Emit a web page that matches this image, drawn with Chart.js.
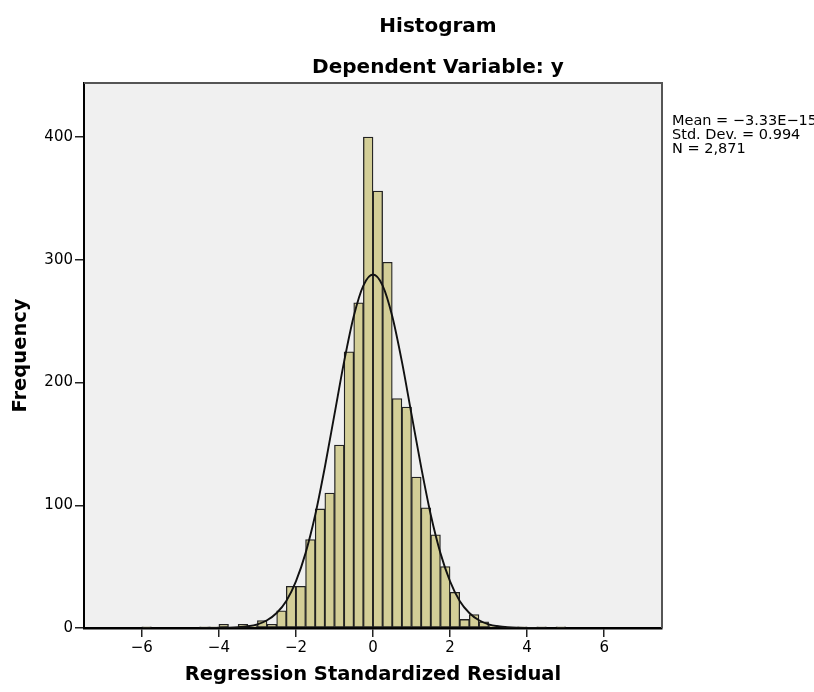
<!DOCTYPE html>
<html>
<head>
<meta charset="utf-8">
<script src="https://cdn.jsdelivr.net/npm/chart.js@4.4.1/dist/chart.umd.min.js"></script>
<style>
  html, body { margin: 0; padding: 0; background: #fff; }
  #wrap { position: relative; width: 814px; height: 692px; overflow: hidden; }
  #c { position: absolute; left: 0; top: 0; }
  .ttl { position: absolute; left: 238px; width: 400px; text-align: center;
         font: bold 20px "DejaVu Sans", sans-serif; line-height: 24px; color: #000; white-space: nowrap; }
  #stats { position: absolute; left: 672px; top: 113px; white-space: nowrap;
           font: 14.5px "DejaVu Sans", sans-serif; line-height: 14.2px; color: #000; }
</style>
</head>
<body>
<div id="wrap">
  <canvas id="c" width="814" height="692"></canvas>
  <div class="ttl" style="top:13px">Histogram</div>
  <div class="ttl" style="top:54px">Dependent Variable: y</div>
  <div id="stats">Mean = −3.33E−15<br>Std. Dev. = 0.994<br>N = 2,871</div>
</div>
<script>
/* ===== Data ===== */
// lower edge of each 0.25-wide bin
const binLower = [
  -6.00, -5.75, -5.50, -5.25, -5.00, -4.75, -4.50, -4.25, -4.00, -3.75,
  -3.50, -3.25, -3.00, -2.75, -2.50, -2.25, -2.00, -1.75, -1.50, -1.25,
  -1.00, -0.75, -0.50, -0.25,  0.00,  0.25,  0.50,  0.75,  1.00,  1.25,
   1.50,  1.75,  2.00,  2.25,  2.50,  2.75,  3.00,  3.25,  3.50,  3.75,
   4.00,  4.25,  4.50,  4.75
];
const binCounts = [
    1,   0,   0,   0,   0,   0,   1,   1,   3,   0,
    3,   2,   6,   3,  14,  34,  34,  72,  97, 110,
  149, 225, 265, 400, 356, 298, 187, 180, 123,  98,
   76,  50,  29,   7,  11,   5,   2,   0,   0,   1,
    0,   1,   0,   1
];
const binWidth = 0.25;

// normal curve, read at points along x
const curveX = [-4.5, -4.0, -3.75, -3.5, -3.25, -3.0, -2.75, -2.5, -2.25, -2.0, -1.75, -1.5, -1.25, -1.0, -0.75, -0.5, -0.25, 0,
                0.25, 0.5, 0.75, 1.0, 1.25, 1.5, 1.75, 2.0, 2.25, 2.5, 2.75, 3.0, 3.25, 3.5, 3.75, 4.0, 4.5];
const curveY = [0, 0.1, 0.2, 0.6, 1.4, 3, 6.3, 12.2, 22, 38, 61, 92, 131, 174, 217, 254, 279, 288,
                279, 254, 217, 174, 131, 92, 61, 38, 22, 12.2, 6.3, 3, 1.4, 0.6, 0.2, 0.1, 0];

const xTickValues = [-6, -4, -2, 0, 2, 4, 6];
const yTickValues = [0, 100, 200, 300, 400];

/* ===== Plot background + frame ===== */
const plotFrame = {
  id: 'plotFrame',
  beforeDraw(chart) {
    const { ctx, chartArea: a } = chart;
    ctx.save();
    ctx.fillStyle = '#f0f0f0';
    ctx.fillRect(a.left, a.top, a.right - a.left, a.bottom - a.top);
    ctx.restore();
  },
  afterDraw(chart) {
    const { ctx, chartArea: a } = chart;
    ctx.save();
    ctx.strokeStyle = '#555';
    ctx.lineWidth = 2;
    ctx.beginPath();
    ctx.moveTo(a.left, a.top);
    ctx.lineTo(a.right, a.top);
    ctx.lineTo(a.right, a.bottom);
    ctx.stroke();
    ctx.restore();
  }
};

const fam = '"DejaVu Sans", sans-serif';
const minus = v => String(v).replace('-', '−');

new Chart(document.getElementById('c'), {
  type: 'bar',
  data: {
    datasets: [
      {
        type: 'line',
        data: curveX.map((x, i) => ({ x: x, y: curveY[i] })),
        borderColor: '#111',
        borderWidth: 1.9,
        pointRadius: 0,
        fill: false,
        cubicInterpolationMode: 'monotone',
        order: 0,
      },
      {
        type: 'bar',
        data: binLower.map((lo, i) => ({ x: lo + binWidth / 2, y: binCounts[i] })),
        backgroundColor: '#d3ce97',
        borderColor: '#222',
        borderWidth: 1.3,
        borderSkipped: false,
        barPercentage: 1,
        categoryPercentage: 1,
        order: 1,
      }
    ]
  },
  options: {
    responsive: false,
    animation: false,
    devicePixelRatio: 1,
    layout: { padding: { top: 83, right: 152, left: 0, bottom: 0 } },
    plugins: { legend: { display: false }, tooltip: { enabled: false } },
    scales: {
      x: {
        type: 'linear',
        min: -7.5,
        max: 7.5,
        offset: false,
        afterBuildTicks: s => { s.ticks = xTickValues.map(v => ({ value: v })); },
        afterFit: s => { s.height = 64; },
        grid: { offset: false, drawOnChartArea: false, drawTicks: true, tickLength: 9, color: '#222', lineWidth: 1.5 },
        border: { color: '#000', width: 2.5 },
        ticks: { color: '#000', font: { family: fam, size: 15 }, padding: 2, maxRotation: 0, autoSkip: false, callback: v => minus(v) },
        title: { display: true, text: 'Regression Standardized Residual', color: '#000',
                 font: { family: fam, size: 19.5, weight: 'bold' }, padding: { top: 0, bottom: 5 } }
      },
      y: {
        min: 0,
        max: 444,
        afterBuildTicks: s => { s.ticks = yTickValues.map(v => ({ value: v })); },
        afterFit: s => { s.width = 84; },
        grid: { drawOnChartArea: false, drawTicks: true, tickLength: 9, color: '#222', lineWidth: 1.5 },
        border: { color: '#000', width: 2 },
        ticks: { color: '#000', font: { family: fam, size: 15 }, padding: 2 },
        title: { display: true, text: 'Frequency', color: '#000',
                 font: { family: fam, size: 19.5, weight: 'bold' }, padding: { top: 9, bottom: 0 } }
      }
    }
  },
  plugins: [plotFrame]
});
</script>
</body>
</html>
